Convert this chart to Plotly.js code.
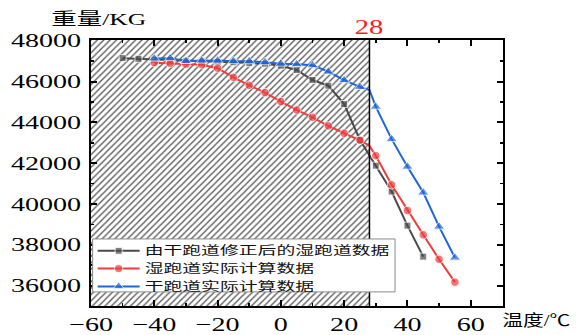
<!DOCTYPE html>
<html><head><meta charset="utf-8">
<script src="https://cdn.plot.ly/plotly-3.0.1.min.js"></script>
<style>html,body{margin:0;padding:0;background:#fff}#chart{width:582px;height:335px}</style>
</head><body><div id="chart"></div>
<script>
// ---- data ----
const CRIT_TEMP = 28;
const seriesNames = ['由干跑道修正后的湿跑道数据', '湿跑道实际计算数据', '干跑道实际计算数据'];

const grayX = [-50, -45, -40, -35, -30, -25, -20, -15, -10, -5, 0, 5, 10, 15, 20, 25, 30, 35, 40, 45];
const grayY = [47150, 47120, 47080, 47060, 47000, 46990, 46970, 46950, 46920, 46880, 46780, 46570, 46080, 45800, 44900, 43140, 41880, 40610, 38940, 37420];

const redX = [-40, -35, -30, -25, -20, -15, -10, -5, 0, 5, 10, 15, 20, 25, 28, 30, 35, 40, 45, 50, 55];
const redY = [46930, 46900, 46850, 46830, 46660, 46210, 45820, 45460, 45020, 44610, 44250, 43830, 43470, 43120, 42860, 42370, 40940, 39680, 38490, 37290, 36170];

const blueX = [-40, -35, -30, -25, -20, -15, -10, -5, 0, 5, 10, 15, 20, 25, 28, 30, 35, 40, 45, 50, 55];
const blueY = [47130, 47150, 47010, 47030, 47030, 47000, 47000, 46950, 46880, 46850, 46800, 46490, 46070, 45740, 45590, 44770, 43180, 41830, 40560, 38890, 37370];

const xRange = [-60, 70.2];
const yRange = [35000, 48040];

// ---- styles ----
const GRAY = '#4a4a4a', RED = '#f03c3c', BLUE = '#1e66d8';
const sizes = (xs, s) => xs.map(x => x === CRIT_TEMP ? 0 : s);

const hatch = {
  x: [xRange[0] - 5, CRIT_TEMP, CRIT_TEMP, xRange[0] - 5],
  y: [yRange[0] - 2000, yRange[0] - 2000, yRange[1] + 2000, yRange[1] + 2000],
  mode: 'lines', fill: 'toself', fillcolor: 'white',
  fillpattern: {shape: '/', size: 4.5, solidity: 0.3, fgcolor: '#5a5a5a', bgcolor: 'white'},
  line: {width: 0}, showlegend: false, hoverinfo: 'skip'
};

function series(x, y, name, color, symbol, size) {
  return {x: x, y: y, name: name, mode: 'lines+markers', type: 'scatter',
    line: {color: color, width: 2},
    marker: {color: color, symbol: symbol, size: size}};
}

const traces = [
  hatch,
  series(grayX, grayY, seriesNames[0], GRAY, 'square', sizes(grayX, 7)),
  series(redX, redY, seriesNames[1], RED, 'circle', sizes(redX, 8.5)),
  series(blueX, blueY, seriesNames[2], BLUE, 'triangle-up', sizes(blueX, 10))
];

const axisCommon = {
  showline: true, linecolor: 'black', linewidth: 2, mirror: 'ticks',
  ticks: 'inside', ticklen: 6, tickwidth: 2, tickcolor: 'black',
  showgrid: false, zeroline: false, tickformat: 'd',
  tickfont: {family: 'Liberation Serif, serif', size: 19, color: 'black'},
  fixedrange: true
};

const CJK = 'Liberation Serif, Noto Sans CJK SC, sans-serif';

const layout = {
  width: 582, height: 335,
  margin: {l: 91, r: 79, t: 40, b: 29},
  paper_bgcolor: 'white', plot_bgcolor: 'white',
  showlegend: true,
  xaxis: Object.assign({}, axisCommon, {range: xRange, tick0: 0, dtick: 20, ticklabelstandoff: 0,
    minor: {ticks: 'inside', ticklen: 3, tickwidth: 1.5, tickcolor: 'black', dtick: 10}}),
  yaxis: Object.assign({}, axisCommon, {range: yRange, tick0: 0, dtick: 2000, ticklabelstandoff: 4,
    minor: {ticks: 'inside', ticklen: 3, tickwidth: 1.5, tickcolor: 'black', dtick: 1000}}),
  legend: {x: 0.004, y: 0.262, xanchor: 'left', yanchor: 'top',
    bgcolor: 'rgba(0,0,0,0)', borderwidth: 0, itemwidth: 42,
    font: {family: 'Noto Sans CJK SC, sans-serif', size: 12, color: '#111'}},
  shapes: [
    {type: 'line', xref: 'x', yref: 'paper', x0: CRIT_TEMP, x1: CRIT_TEMP, y0: 0, y1: 1,
      line: {color: 'black', width: 1.5}, layer: 'above'},
    {type: 'rect', xref: 'paper', yref: 'paper', x0: 0.004, x1: 0.738, y0: 0.053, y1: 0.252,
      fillcolor: 'white', line: {color: '#8a8a8a', width: 1}, layer: 'above'}
  ],
  annotations: [
    {text: '重量/KG', xref: 'paper', yref: 'paper', x: 0.017, y: 1.077, showarrow: false,
      xanchor: 'center', yanchor: 'middle', font: {family: CJK, size: 17, color: 'black'}},
    {text: '温度/℃', xref: 'paper', yref: 'paper', x: 1.079, y: -0.0545, showarrow: false,
      xanchor: 'center', yanchor: 'middle', font: {family: CJK, size: 16, color: 'black'}},
    {text: String(CRIT_TEMP), xref: 'x', yref: 'paper', x: CRIT_TEMP, y: 1.0508, showarrow: false,
      xanchor: 'center', yanchor: 'middle', font: {family: 'Liberation Serif, serif', size: 22, color: '#ff1a1a'}}
  ]
};
const annStretch = [1.5, 1.3, 1.3];
const LEGEND_ROW = 17.8;

function stretchEl(el, s) {
  const x = parseFloat(el.getAttribute('x')) || 0;
  const t = el.getAttribute('transform') || '';
  el.setAttribute('transform', (t + ' translate(' + x + ',0) scale(' + s + ',1) translate(' + (-x) + ',0)').trim());
}

const gd = document.getElementById('chart');
Plotly.newPlot(gd, traces, layout, {staticPlot: true, displayModeBar: false}).then(function () {
  gd.querySelectorAll('g.xtick text, g.ytick text').forEach(el => stretchEl(el, 1.48));
  gd.querySelectorAll('text.legendtext').forEach(el => stretchEl(el, 1.57));
  gd.querySelectorAll('g.annotation').forEach((g, i) => {
    g.querySelectorAll('text').forEach(el => stretchEl(el, annStretch[i] || 1));
  });
  // let the stretched legend text show in full, and tighten its rows
  gd.querySelectorAll('g.legend [clip-path]').forEach(el => el.removeAttribute('clip-path'));
  const items = Array.from(gd.querySelectorAll('g.legend g.traces'));
  let y0 = null;
  items.forEach((g, i) => {
    const m = /translate\(\s*([-\d.e]+)[ ,]+([-\d.e]+)\s*\)/.exec(g.getAttribute('transform') || '');
    if (!m) return;
    const x = parseFloat(m[1]), y = parseFloat(m[2]);
    if (y0 === null) y0 = y;
    g.setAttribute('transform', 'translate(' + x + ',' + (y0 + i * LEGEND_ROW) + ')');
  });
});
</script>
</body></html>
